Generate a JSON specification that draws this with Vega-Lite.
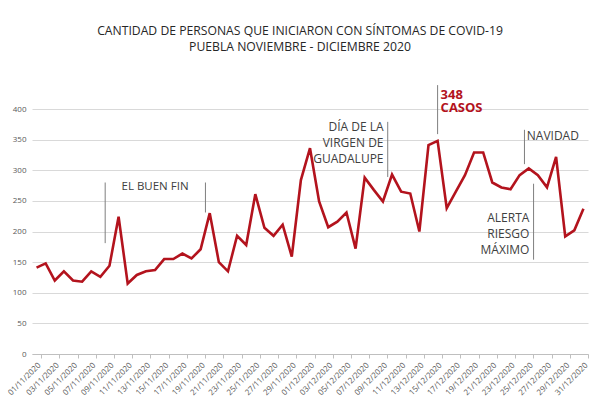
{
  "$schema": "https://vega.github.io/schema/vega-lite/v6.json",
  "width": 556,
  "height": 245,
  "autosize": {"type": "none"},
  "padding": {"left": 32, "top": 109, "right": 12, "bottom": 46},
  "background": "white",
  "config": {
    "view": {"stroke": null},
    "font": "Open Sans",
    "text": {"font": "Open Sans"}
  },
  "title": {
    "text": ["CANTIDAD DE PERSONAS QUE INICIARON CON SÍNTOMAS DE COVID-19", "PUEBLA NOVIEMBRE - DICIEMBRE 2020"],
    "font": "Open Sans",
    "fontSize": 12.2,
    "fontWeight": "normal",
    "color": "#262626",
    "lineHeight": 16,
    "anchor": "middle",
    "dx": -10,
    "offset": 31
  },
  "datasets": {
    "casos": [
      {"fecha": "2020-11-01", "valor": 141}, {"fecha": "2020-11-02", "valor": 148},
      {"fecha": "2020-11-03", "valor": 120}, {"fecha": "2020-11-04", "valor": 135},
      {"fecha": "2020-11-05", "valor": 120}, {"fecha": "2020-11-06", "valor": 118},
      {"fecha": "2020-11-07", "valor": 135}, {"fecha": "2020-11-08", "valor": 126},
      {"fecha": "2020-11-09", "valor": 144}, {"fecha": "2020-11-10", "valor": 224},
      {"fecha": "2020-11-11", "valor": 115}, {"fecha": "2020-11-12", "valor": 129},
      {"fecha": "2020-11-13", "valor": 135}, {"fecha": "2020-11-14", "valor": 137},
      {"fecha": "2020-11-15", "valor": 155}, {"fecha": "2020-11-16", "valor": 155},
      {"fecha": "2020-11-17", "valor": 164}, {"fecha": "2020-11-18", "valor": 156},
      {"fecha": "2020-11-19", "valor": 171}, {"fecha": "2020-11-20", "valor": 230},
      {"fecha": "2020-11-21", "valor": 150}, {"fecha": "2020-11-22", "valor": 135},
      {"fecha": "2020-11-23", "valor": 193}, {"fecha": "2020-11-24", "valor": 178},
      {"fecha": "2020-11-25", "valor": 261}, {"fecha": "2020-11-26", "valor": 206},
      {"fecha": "2020-11-27", "valor": 193}, {"fecha": "2020-11-28", "valor": 211},
      {"fecha": "2020-11-29", "valor": 159}, {"fecha": "2020-11-30", "valor": 284},
      {"fecha": "2020-12-01", "valor": 336}, {"fecha": "2020-12-02", "valor": 249},
      {"fecha": "2020-12-03", "valor": 207}, {"fecha": "2020-12-04", "valor": 216},
      {"fecha": "2020-12-05", "valor": 231}, {"fecha": "2020-12-06", "valor": 172},
      {"fecha": "2020-12-07", "valor": 288}, {"fecha": "2020-12-08", "valor": 268},
      {"fecha": "2020-12-09", "valor": 249}, {"fecha": "2020-12-10", "valor": 293},
      {"fecha": "2020-12-11", "valor": 265}, {"fecha": "2020-12-12", "valor": 262},
      {"fecha": "2020-12-13", "valor": 200}, {"fecha": "2020-12-14", "valor": 341},
      {"fecha": "2020-12-15", "valor": 348}, {"fecha": "2020-12-16", "valor": 238},
      {"fecha": "2020-12-17", "valor": 265}, {"fecha": "2020-12-18", "valor": 292},
      {"fecha": "2020-12-19", "valor": 329}, {"fecha": "2020-12-20", "valor": 329},
      {"fecha": "2020-12-21", "valor": 280}, {"fecha": "2020-12-22", "valor": 272},
      {"fecha": "2020-12-23", "valor": 269}, {"fecha": "2020-12-24", "valor": 292},
      {"fecha": "2020-12-25", "valor": 303}, {"fecha": "2020-12-26", "valor": 292},
      {"fecha": "2020-12-27", "valor": 272}, {"fecha": "2020-12-28", "valor": 322},
      {"fecha": "2020-12-29", "valor": 192}, {"fecha": "2020-12-30", "valor": 202},
      {"fecha": "2020-12-31", "valor": 237}
    ],
    "marcas": [
      {"fecha": "2020-11-09", "valor": 181, "hasta": 280},
      {"fecha": "2020-11-20", "valor": 231, "hasta": 280},
      {"fecha": "2020-12-10", "valor": 289, "hasta": 379},
      {"fecha": "2020-12-25", "valor": 310, "hasta": 366},
      {"fecha": "2020-12-26", "valor": 154, "hasta": 278}
    ],
    "maximo_marca": [
      {"fecha": "2020-12-15", "valor": 359, "hasta": 439}
    ],
    "maximo_texto": [
      {"fecha": "2020-12-15", "valor": 423, "texto": "348\nCASOS"}
    ],
    "notas_centro": [
      {"fecha": "2020-11-14", "valor": 273, "texto": "EL BUEN FIN"}
    ],
    "notas_izquierda": [
      {"fecha": "2020-12-25", "valor": 356, "texto": "NAVIDAD"}
    ],
    "notas_derecha": [
      {"fecha": "2020-12-10", "valor": 371, "texto": "DÍA DE LA\nVIRGEN DE\nGUADALUPE"},
      {"fecha": "2020-12-26", "valor": 222, "texto": "ALERTA\nRIESGO\nMÁXIMO"}
    ]
  },
  "encoding": {
    "x": {
      "field": "fecha",
      "type": "ordinal",
      "timeUnit": "utcyearmonthdate",
      "bandPosition": 0.5,
      "scale": {"type": "band", "paddingInner": 0, "paddingOuter": 0},
      "axis": {
        "title": null,
        "labelAngle": -45,
        "labelFontSize": 8,
        "labelColor": "#595959",
        "labelOverlap": false,
        "labelPadding": 3,
        "labelExpr": "utcdate(datum.value) % 2 == 1 ? utcFormat(datum.value, '%d/%m/%Y') : ''",
        "tickBand": "extent",
        "tickSize": 4,
        "tickColor": "#bfbfbf",
        "tickOpacity": {"condition": {"test": "utcdate(datum.value) % 2 == 1", "value": 1}, "value": 0},
        "domainColor": "#bfbfbf",
        "grid": false
      }
    },
    "y": {
      "field": "valor",
      "type": "quantitative",
      "scale": {"domain": [0, 400], "nice": false},
      "axis": {
        "title": null,
        "values": [0, 50, 100, 150, 200, 250, 300, 350, 400],
        "labelFontSize": 8,
        "labelColor": "#595959",
        "labelPadding": 6,
        "tickSize": 0,
        "domain": false,
        "gridColor": "#d9d9d9",
        "gridWidth": 1
      }
    }
  },
  "layer": [
    {
      "data": {"name": "casos"},
      "mark": {"type": "line", "color": "#b3131d", "strokeWidth": 2.6}
    },
    {
      "data": {"name": "marcas"},
      "mark": {"type": "rule", "color": "#7f7f7f", "strokeWidth": 1, "xOffset": -4.3},
      "encoding": {"y2": {"field": "hasta"}}
    },
    {
      "data": {"name": "maximo_marca"},
      "mark": {"type": "rule", "color": "#7f7f7f", "strokeWidth": 1},
      "encoding": {"y2": {"field": "hasta"}}
    },
    {
      "data": {"name": "maximo_texto"},
      "mark": {"type": "text", "align": "left", "baseline": "middle", "dx": 3, "fontSize": 13, "fontWeight": "bold", "color": "#b3131d", "lineBreak": "\n", "lineHeight": 13},
      "encoding": {"text": {"field": "texto"}}
    },
    {
      "data": {"name": "notas_centro"},
      "mark": {"type": "text", "align": "center", "baseline": "middle", "fontSize": 11.5, "color": "#404040"},
      "encoding": {"text": {"field": "texto"}}
    },
    {
      "data": {"name": "notas_izquierda"},
      "mark": {"type": "text", "align": "left", "baseline": "middle", "dx": -2, "fontSize": 12, "color": "#404040"},
      "encoding": {"text": {"field": "texto"}}
    },
    {
      "data": {"name": "notas_derecha"},
      "mark": {"type": "text", "align": "right", "baseline": "middle", "dx": -8.5, "fontSize": 12, "color": "#404040", "lineBreak": "\n", "lineHeight": 16},
      "encoding": {"text": {"field": "texto"}}
    }
  ]
}
